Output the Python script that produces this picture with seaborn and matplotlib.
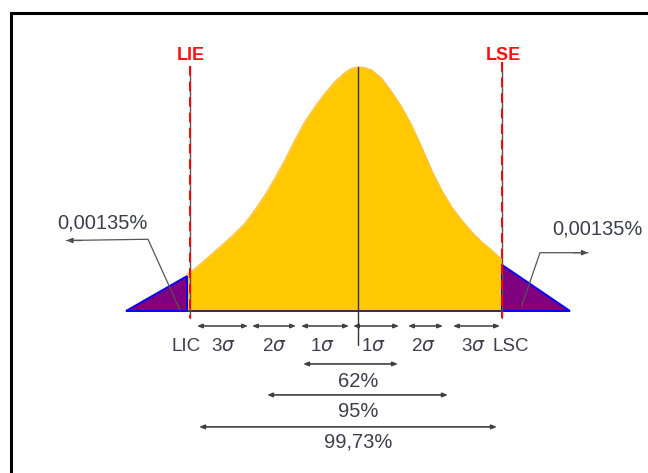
import matplotlib
matplotlib.use("Agg")
import matplotlib.pyplot as plt
import seaborn as sns

# ---------------- data (x in sigma units, y as fraction of peak height) -------------
curve_z = [-3.42, -3.33, -3.06, -2.79, -2.53, -2.26, -2.06, -1.86, -1.66, -1.46, -1.26,
           -1.06, -0.86, -0.66, -0.46, -0.26, -0.13, 0.0, 0.13, 0.27, 0.47, 0.67, 0.87,
           1.07, 1.27, 1.47, 1.67, 1.87, 2.07, 2.27, 2.47, 2.67, 2.88]
curve_f = [0.152, 0.161, 0.209, 0.257, 0.305, 0.359, 0.414, 0.475, 0.544, 0.619, 0.701,
           0.776, 0.837, 0.892, 0.940, 0.977, 0.994, 1.0, 0.997, 0.988, 0.954, 0.899, 0.837,
           0.762, 0.673, 0.578, 0.496, 0.427, 0.373, 0.325, 0.284, 0.250, 0.209]

lie_z, lse_z = -3.36, 2.88
tail_left_z = [-4.64, -3.42]
tail_left_top = 0.143
tail_right_z = [2.88, 4.24]
tail_right_top = 0.189

tail_label = "0,00135%"
tail_label_pos = [(-5.12, 0.361), (4.78, 0.336)]
leader_left_z = [-5.83, -4.20, -3.56]
leader_left_f = [0.289, 0.294, 0.004]
leader_right_z = [3.27, 3.64, 4.60]
leader_right_f = [0.018, 0.239, 0.239]

sigma_segments = [(-3.22, -2.20), (-2.12, -1.24), (-1.14, -0.18),
                  (-0.10, 0.82), (1.00, 1.70), (1.90, 2.84)]
sigma_labels = ["LIC", "3$\\sigma$", "2$\\sigma$", "1$\\sigma$", "1$\\sigma$",
                "2$\\sigma$", "3$\\sigma$", "LSC"]
sigma_label_z = [-3.44, -2.70, -1.68, -0.72, 0.30, 1.30, 2.30, 3.06]

coverage_labels = ["62%", "95%", "99,73%"]
coverage_lo = [-1.10, -1.82, -3.18]
coverage_hi = [0.80, 1.80, 2.78]
coverage_f = [-0.217, -0.344, -0.475]
coverage_text_f = [-0.287, -0.410, -0.537]

# ---------------- figure ----------------
sns.set_style("white")
plt.rcParams['font.family'] = ['Liberation Sans', 'DejaVu Sans']
plt.rcParams['mathtext.fontset'] = 'dejavusans'

W, H = 648, 473
fig = plt.figure(figsize=(W / 100, H / 100), dpi=100)
ax = fig.add_axes([10.5 / W, 0, 1 - 10.5 / W, 1 - 13.5 / H])

# pixel mapping: x px = 358 + 50 z ; y px = 311 - 244 f
ax.set_xlim((10.5 - 358) / 50, (648 - 358) / 50)
ax.set_ylim((311 - 473) / 244, (311 - 13.5) / 244)
ax.set_xticks([]); ax.set_yticks([])
for s in ["right", "bottom"]:
    ax.spines[s].set_visible(False)
for s in ["left", "top"]:
    ax.spines[s].set_color("black")
    ax.spines[s].set_linewidth(2.2)

yellow = "#FFC800"
purple = "#800080"
blue = "#0000FF"
dark = "#333333"
txt = "#3d3d4d"

# main curve
ax.fill_between(curve_z, curve_f, 0, color=yellow, lw=0, zorder=2)
sns.lineplot(x=curve_z, y=curve_f, ax=ax, color="#FFC040", lw=1.0, estimator=None, zorder=3)

# tails
ax.fill([tail_left_z[0], tail_left_z[1], tail_left_z[1]], [0, tail_left_top, 0],
        facecolor=purple, edgecolor=blue, lw=1.4, zorder=3)
ax.fill([tail_right_z[0], tail_right_z[0], tail_right_z[1]], [0, tail_right_top, 0],
        facecolor=purple, edgecolor=blue, lw=1.4, zorder=3)

# baseline and centre line
ax.plot([tail_left_z[1], tail_right_z[0]], [0, 0], color=dark, lw=1.4, zorder=4)
ax.plot([0, 0], [1.0, -0.139], color=dark, lw=1.0, zorder=5)

# spec limits
for z, lab, top in [(lie_z, "LIE", 1.004), (lse_z, "LSE", 1.02)]:
    ax.plot([z, z], [top, -0.029], color="#555555", lw=1.0, zorder=5)
    ax.plot([z, z], [top, -0.029], color="#FF0000", lw=1.4, ls=(0, (5, 3)), zorder=6)
    ax.text(z + 0.02, 1.049, lab, color="#FF1010", fontsize=13, fontweight="bold",
            ha="center", va="center", zorder=7)

# tail labels and leaders
for (zx, fy) in tail_label_pos:
    ax.text(zx, fy, tail_label, color=txt, fontsize=14.5, ha="center", va="center")
ax.plot(leader_left_z, leader_left_f, color="#555555", lw=0.9, zorder=6)
ax.plot(leader_right_z, leader_right_f, color="#555555", lw=0.9, zorder=6)
ax.annotate("", xy=(leader_left_z[0], leader_left_f[0]),
            xytext=(leader_left_z[0] + 0.3, leader_left_f[0]),
            arrowprops=dict(arrowstyle="-|>,head_length=0.35,head_width=0.15",
                            color="#444444", lw=0.9, shrinkA=0, shrinkB=0))
ax.annotate("", xy=(leader_right_z[-1], leader_right_f[-1]),
            xytext=(leader_right_z[-1] - 0.3, leader_right_f[-1]),
            arrowprops=dict(arrowstyle="-|>,head_length=0.35,head_width=0.15",
                            color="#444444", lw=0.9, shrinkA=0, shrinkB=0))

# sigma arrows
sig_f = -0.0615
for a, b in sigma_segments:
    ax.annotate("", xy=(b, sig_f), xytext=(a, sig_f),
                arrowprops=dict(arrowstyle="<|-|>,head_length=0.3,head_width=0.12",
                                color="#404040", lw=1.1, shrinkA=0, shrinkB=0))
for zx, lab in zip(sigma_label_z, sigma_labels):
    ax.text(zx, -0.1475, lab, color=txt, fontsize=13.5, ha="center", va="center")

# coverage arrows
for lo, hi, fy, ft, lab in zip(coverage_lo, coverage_hi, coverage_f, coverage_text_f,
                               coverage_labels):
    ax.annotate("", xy=(hi, fy), xytext=(lo, fy),
                arrowprops=dict(arrowstyle="<|-|>,head_length=0.3,head_width=0.12",
                                color="#404040", lw=1.2, shrinkA=0, shrinkB=0))
    ax.text(0, ft, lab, color=txt, fontsize=14.5, ha="center", va="center")

fig.savefig("out.png", dpi=100, facecolor="white")
